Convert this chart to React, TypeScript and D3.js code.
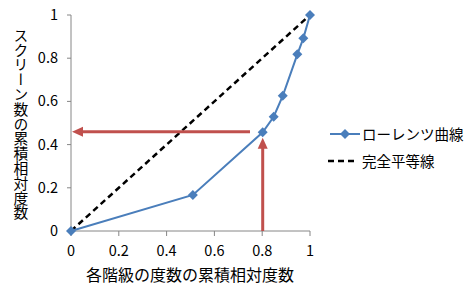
import React from "react";
import * as d3 from "d3";

const lorenzX = [0, 0.51, 0.802, 0.848, 0.886, 0.947, 0.972, 1];
const lorenzY = [0, 0.167, 0.457, 0.529, 0.626, 0.818, 0.892, 1];
const equalX = [0, 1];
const equalY = [0, 1];
const ticks = [0, 0.2, 0.4, 0.6, 0.8, 1];
const tickLabels = ["0", "0.2", "0.4", "0.6", "0.8", "1"];
const arrowX = [0.8];
const arrowY = [0.46];
const seriesNames = ["ローレンツ曲線", "完全平等線"];
const xTitle = "各階級の度数の累積相対度数";
const yTitle = "スクリーン数の累積相対度数";

const W = 474, H = 299;
const FONT = "'Noto Sans CJK JP', 'Noto Sans', sans-serif";

export default function App() {
  const x = d3.scaleLinear().domain([0, 1]).range([71, 310]);
  const y = d3.scaleLinear().domain([0, 1]).range([231, 15]);
  const lorenz = d3.line<number>().x((_, i) => x(lorenzX[i])).y((_, i) => y(lorenzY[i]))(lorenzX) || "";
  const equal = d3.line<number>().x((_, i) => x(equalX[i])).y((_, i) => y(equalY[i]))(equalX) || "";
  const blue = "#4a7ebb";
  const red = "#c0504d";
  const diamond = (cx: number, cy: number, r: number) =>
    `M${cx},${cy - r}L${cx + r},${cy}L${cx},${cy + r}L${cx - r},${cy}Z`;
  const ay = y(arrowY[0]);
  const ax = x(arrowX[0]);
  return (
    <svg width={W} height={H} style={{ position: "absolute", left: 0, top: 0, background: "#fff" }}>
      <rect width={W} height={H} fill="#fff" />
      {/* axes */}
      <line x1={x(0)} x2={x(1)} y1={y(0)} y2={y(0)} stroke="#868686" strokeWidth={1} />
      <line x1={x(0)} x2={x(0)} y1={y(0)} y2={y(1)} stroke="#868686" strokeWidth={1} />
      {ticks.map((t, i) => (
        <g key={"x" + i}>
          <line x1={x(t)} x2={x(t)} y1={y(0)} y2={y(0) + 5} stroke="#868686" />
          <text x={x(t)} y={y(0) + 25} textAnchor="middle" fontSize={14.5} fontFamily={FONT} fill="#000">{tickLabels[i]}</text>
        </g>
      ))}
      {ticks.map((t, i) => (
        <g key={"y" + i}>
          <line x1={x(0) - 4} x2={x(0)} y1={y(t)} y2={y(t)} stroke="#868686" />
          <text x={x(0) - 13} y={y(t) + 5} textAnchor="end" fontSize={14.5} fontFamily={FONT} fill="#000">{tickLabels[i]}</text>
        </g>
      ))}
      {/* equality line */}
      <path d={equal} fill="none" stroke="#000" strokeWidth={2.5} strokeDasharray="6,4" />
      {/* lorenz */}
      <path d={lorenz} fill="none" stroke={blue} strokeWidth={2} />
      {lorenzX.map((v, i) => (
        <path key={i} d={diamond(x(v), y(lorenzY[i]), 5)} fill={blue} />
      ))}
      {/* red arrows */}
      <line x1={250} x2={x(0) + 10} y1={ay} y2={ay} stroke={red} strokeWidth={3} />
      <path d={`M${x(0) + 1},${ay}L${x(0) + 12},${ay - 5}L${x(0) + 12},${ay + 5}Z`} fill={red} />
      <line x1={ax + 0.5} x2={ax + 0.5} y1={y(0)} y2={ay + 16} stroke={red} strokeWidth={3} />
      <path d={`M${ax + 0.5},${ay + 6}L${ax - 4.5},${ay + 17}L${ax + 5.5},${ay + 17}Z`} fill={red} />
      {/* titles */}
      <text x={190} y={281} textAnchor="middle" fontSize={16} fontFamily={FONT} fill="#000">{xTitle}</text>
      <text x={21} y={124} textAnchor="middle" fontSize={14.8} fontFamily={FONT} fill="#000"
        style={{ writingMode: "vertical-rl" as any }}>{yTitle}</text>
      {/* legend */}
      <line x1={330} x2={360} y1={134} y2={134} stroke={blue} strokeWidth={2} />
      <path d={diamond(345, 134, 5)} fill={blue} />
      <text x={362} y={140} fontSize={14.5} fontFamily={FONT} fill="#000">{seriesNames[0]}</text>
      <line x1={328} x2={358} y1={161} y2={161} stroke="#000" strokeWidth={2.5} strokeDasharray="6,4" />
      <text x={362} y={167} fontSize={14.5} fontFamily={FONT} fill="#000">{seriesNames[1]}</text>
    </svg>
  );
}
